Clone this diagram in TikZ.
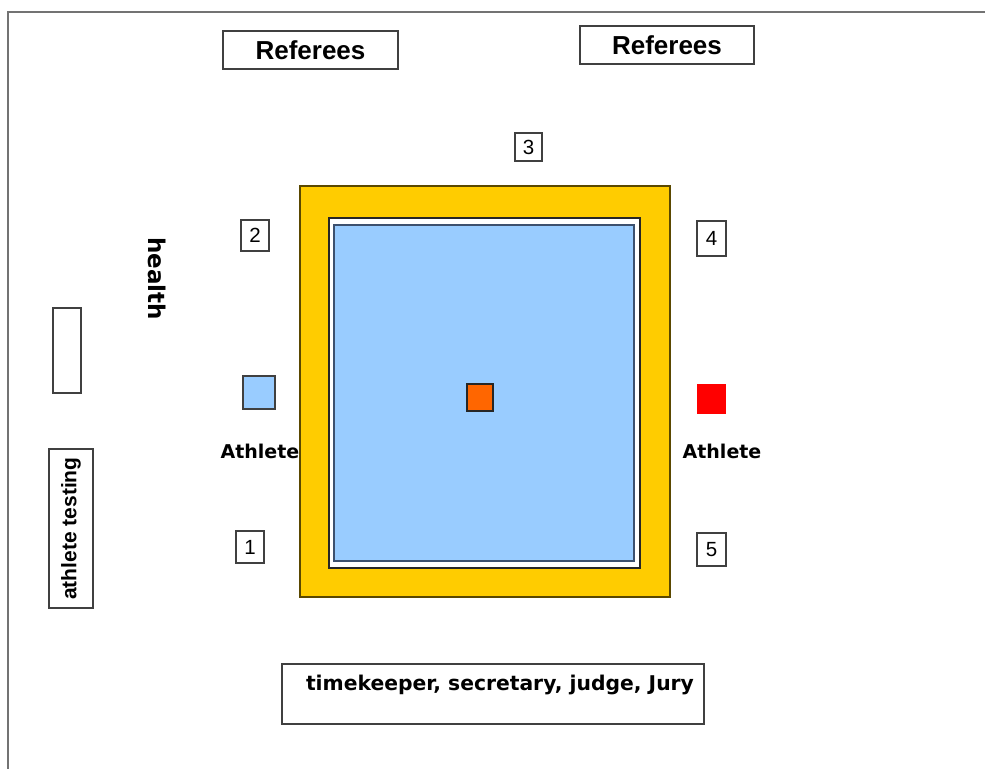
\documentclass[tikz,border=0pt]{standalone}
\usepackage{fontspec}
\setmainfont{Liberation Sans}
\newfontfamily\dvb{DejaVu Sans}[BoldFont={DejaVu Sans Bold}]
\begin{document}
\begin{tikzpicture}[x=1pt,y=-1pt,
  box/.style={draw=black!75,line width=1.5pt,fill=white,inner sep=0pt,anchor=center},
  numbox/.style={box,font=\fontsize{20.5}{22}\selectfont},
  reftxt/.style={font=\fontsize{26}{28}\selectfont\bfseries},
  lbl/.style={font=\dvb\fontsize{19}{22}\selectfont\bfseries,inner sep=0pt}]
\useasboundingbox (0,0) rectangle (985,769);
% frame
\draw[draw=black!55,line width=2pt] (985,12) -- (8,12) -- (8,769);
% referees
\node[box,minimum width=175pt,minimum height=38pt,reftxt] (ref1) at (310.5,50) {Referees};
\node[box,minimum width=174pt,minimum height=38pt,reftxt] (ref2) at (667,45) {Referees};
% numbered posts
\node[numbox,minimum width=27pt,minimum height=28pt] (n3) at (528.5,147) {3};
\node[numbox,minimum width=28pt,minimum height=31pt] (n2) at (255,235.5) {2};
\node[numbox,minimum width=29pt,minimum height=35pt] (n4) at (711.5,238.5) {4};
\node[numbox,minimum width=28pt,minimum height=32pt] (n1) at (250,547) {1};
\node[numbox,minimum width=29pt,minimum height=33pt] (n5) at (711.5,549.5) {5};
% mat
\node[draw={rgb,255:red,90;green,72;blue,0},line width=2pt,fill={rgb,255:red,255;green,204;blue,0},minimum width=370pt,minimum height=411pt,inner sep=0pt] (outer) at (485,391.5) {};
\node[draw=black!85,line width=1.5pt,fill=white,minimum width=311pt,minimum height=350pt,inner sep=0pt] (safety) at (484.5,393) {};
\node[draw={rgb,255:red,60;green,80;blue,110},line width=1.5pt,fill={rgb,255:red,153;green,204;blue,255},minimum width=300pt,minimum height=336pt,inner sep=0pt] (contest) at (484,393) {};
\node[draw=black!85,line width=1.5pt,fill={rgb,255:red,255;green,102;blue,0},minimum width=26pt,minimum height=27pt,inner sep=0pt] (center) at (480,397.5) {};
% athletes
\node[draw=black!75,line width=1.5pt,fill={rgb,255:red,153;green,204;blue,255},minimum width=32pt,minimum height=33pt,inner sep=0pt] (blue) at (259,392.5) {};
\node[fill={rgb,255:red,255;green,0;blue,0},minimum width=29pt,minimum height=30pt,inner sep=0pt] (red) at (711.5,399) {};
\node[lbl] (athL) at (260,451) {Athlete};
\node[lbl] (athR) at (722,451) {Athlete};
% health
\node[lbl,font=\dvb\fontsize{23}{26}\selectfont\bfseries,rotate=-90] (health) at (157,278.5) {health};
% left boxes
\node[box,minimum width=28pt,minimum height=85pt] (empty) at (67,350.5) {};
\node[box,minimum width=44pt,minimum height=159pt] (testbox) at (71,528.5) {};
\node[font=\fontsize{21}{23}\selectfont\bfseries,rotate=90,inner sep=0pt] (testing) at (testbox.center) {athlete testing};
% officials
\node[box,minimum width=422pt,minimum height=60pt] (officials) at (493,694) {};
\node[lbl,font=\dvb\fontsize{20.3}{23}\selectfont\bfseries] (offtxt) at (500,685) {timekeeper, secretary, judge, Jury};
\end{tikzpicture}
\end{document}
